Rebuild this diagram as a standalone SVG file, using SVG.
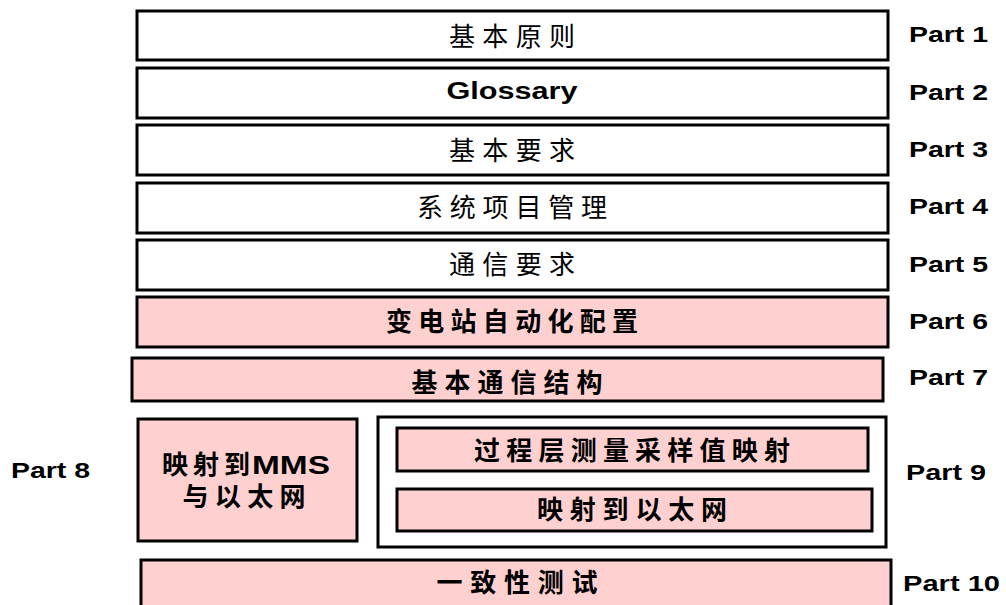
<svg xmlns="http://www.w3.org/2000/svg" width="1006" height="605" viewBox="0 0 1006 605">
<style>
.b{stroke:#000;stroke-width:3}
.w{fill:#fff}
.p{fill:#FFD0D0}
.t{font-family:"Liberation Sans","Noto Sans CJK SC",sans-serif;font-size:26px;fill:#000;text-anchor:middle}
.tb{font-weight:bold}
.g{font-size:23px}
.s{text-anchor:start}
.lbl{font-family:"Liberation Sans",Arial,sans-serif;font-weight:bold;font-size:22px;fill:#000}
</style>
<rect width="1006" height="605" fill="#fff"/>
<g id="n1"><rect class="b w" x="137" y="11" width="751" height="49"/><text class="t" x="512" y="46" textLength="126" lengthAdjust="spacing">基本原则</text></g>
<g id="n2"><rect class="b w" x="137" y="68" width="751" height="50"/><text class="t tb g" x="512" y="99" textLength="131" lengthAdjust="spacingAndGlyphs">Glossary</text></g>
<g id="n3"><rect class="b w" x="137" y="125" width="751" height="50"/><text class="t" x="512" y="160" textLength="126" lengthAdjust="spacing">基本要求</text></g>
<g id="n4"><rect class="b w" x="137" y="183" width="751" height="50"/><text class="t" x="512" y="217" textLength="190" lengthAdjust="spacing">系统项目管理</text></g>
<g id="n5"><rect class="b w" x="137" y="240" width="751" height="50"/><text class="t" x="512" y="274" textLength="126" lengthAdjust="spacing">通信要求</text></g>
<g id="n6"><rect class="b p" x="137" y="297" width="751" height="50"/><text class="t tb" x="512" y="331" textLength="252" lengthAdjust="spacing">变电站自动化配置</text></g>
<g id="n7"><rect class="b p" x="132" y="358" width="751" height="43"/><text class="t tb" x="507" y="392" textLength="191" lengthAdjust="spacing">基本通信结构</text></g>
<g id="n8"><rect class="b p" x="138" y="419" width="219" height="122"/><text class="t tb s" x="162" y="474" textLength="88" lengthAdjust="spacing">映射到</text><text class="t tb s" x="252" y="474" textLength="78" lengthAdjust="spacingAndGlyphs">MMS</text><text class="t tb" x="244" y="506" textLength="123" lengthAdjust="spacing">与以太网</text></g>
<g id="n9"><rect class="b w" x="378" y="417" width="508" height="130"/>
<rect class="b p" x="397" y="428" width="471" height="43"/><text class="t tb" x="632" y="460" textLength="316" lengthAdjust="spacing">过程层测量采样值映射</text>
<rect class="b p" x="397" y="489" width="475" height="42"/><text class="t tb" x="632" y="519" textLength="190" lengthAdjust="spacing">映射到以太网</text></g>
<g id="n10"><rect class="b p" x="141" y="560" width="750" height="50"/><text class="t tb" x="517" y="592" textLength="161" lengthAdjust="spacing">一致性测试</text></g>
<g id="labels">
<text class="lbl" x="909" y="42" textLength="79" lengthAdjust="spacingAndGlyphs">Part 1</text>
<text class="lbl" x="909" y="100" textLength="79" lengthAdjust="spacingAndGlyphs">Part 2</text>
<text class="lbl" x="909" y="157" textLength="79" lengthAdjust="spacingAndGlyphs">Part 3</text>
<text class="lbl" x="909" y="214" textLength="79" lengthAdjust="spacingAndGlyphs">Part 4</text>
<text class="lbl" x="909" y="272" textLength="79" lengthAdjust="spacingAndGlyphs">Part 5</text>
<text class="lbl" x="909" y="329" textLength="79" lengthAdjust="spacingAndGlyphs">Part 6</text>
<text class="lbl" x="909" y="385" textLength="79" lengthAdjust="spacingAndGlyphs">Part 7</text>
<text class="lbl" x="11" y="478" textLength="79" lengthAdjust="spacingAndGlyphs">Part 8</text>
<text class="lbl" x="906" y="480" textLength="80" lengthAdjust="spacingAndGlyphs">Part 9</text>
<text class="lbl" x="903" y="591" textLength="97" lengthAdjust="spacingAndGlyphs">Part 10</text>
</g>
<g id="connectors"></g>
</svg>
